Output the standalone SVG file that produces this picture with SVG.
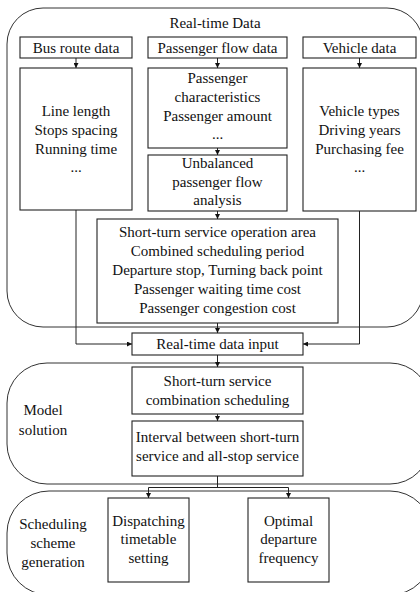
<svg xmlns="http://www.w3.org/2000/svg" width="420" height="592" viewBox="0 0 420 592">
<defs>
<marker id="arr" viewBox="0 0 6 6" refX="6" refY="3" markerWidth="5" markerHeight="5" markerUnits="userSpaceOnUse" orient="auto">
<path d="M0,0 L6,3 L0,6 z" fill="#111"/>
</marker>
<style>
.cont{fill:none;stroke:#333;stroke-width:1}
.box{fill:#fff;stroke:#222;stroke-width:1.1}
.t{font-family:"Liberation Serif","Times New Roman",serif;font-size:15px;fill:#111;text-anchor:middle}
.c{fill:none;stroke:#222;stroke-width:1}
.a{fill:none;stroke:#222;stroke-width:1;marker-end:url(#arr)}
</style>
</defs>
<rect fill="#fff" width="420" height="592"/>

<g id="containers">
<rect id="realtime-container" class="cont" x="7" y="8" width="416" height="319" rx="36" ry="36"/>
<rect id="model-container" class="cont" x="7" y="363" width="423" height="121" rx="40" ry="40"/>
<rect id="scheduling-container" class="cont" x="7" y="491" width="425" height="104" rx="42" ry="42"/>
</g>

<g id="labels">
<text class="t" x="215" y="27.5">Real-time Data</text>
<text class="t" x="43" y="415">Model</text>
<text class="t" x="43" y="435">solution</text>
<text class="t" x="53" y="529">Scheduling</text>
<text class="t" x="53" y="548">scheme</text>
<text class="t" x="53" y="567">generation</text>
</g>

<g id="connectors">
<line class="a" x1="76" y1="58" x2="76" y2="68"/>
<line class="a" x1="217.5" y1="58" x2="217.5" y2="68"/>
<line class="a" x1="359.5" y1="58" x2="359.5" y2="68"/>
<line class="a" x1="217.5" y1="148" x2="217.5" y2="155"/>
<line class="a" x1="217.5" y1="211" x2="217.5" y2="219"/>
<polyline class="a" points="76,210 76,344 132,344"/>
<polyline class="a" points="359.5,211 359.5,344 303,344"/>
<line class="a" x1="217.5" y1="323" x2="217.5" y2="333"/>
<line class="a" x1="217.5" y1="355" x2="217.5" y2="367"/>
<line class="a" x1="217.5" y1="414" x2="217.5" y2="421"/>
<line class="c" x1="217.5" y1="476" x2="217.5" y2="487.5"/>
<line class="c" x1="148.5" y1="487.5" x2="288.5" y2="487.5"/>
<line class="a" x1="148.5" y1="487.5" x2="148.5" y2="498"/>
<line class="a" x1="288.5" y1="487.5" x2="288.5" y2="498"/>
</g>

<g id="bus-route-data">
<rect class="box" x="20" y="37" width="112" height="21"/>
<text class="t" x="76" y="53">Bus route data</text>
</g>
<g id="passenger-flow-data">
<rect class="box" x="148" y="37" width="139" height="21"/>
<text class="t" x="217.5" y="53">Passenger flow data</text>
</g>
<g id="vehicle-data">
<rect class="box" x="303" y="37" width="113" height="21"/>
<text class="t" x="359.5" y="53">Vehicle data</text>
</g>

<g id="route-details">
<rect class="box" x="20" y="68" width="112" height="142"/>
<text class="t" x="76" y="116">Line length</text>
<text class="t" x="76" y="135">Stops spacing</text>
<text class="t" x="76" y="154">Running time</text>
<text class="t" x="76" y="172">...</text>
</g>
<g id="passenger-details">
<rect class="box" x="148" y="68" width="139" height="80"/>
<text class="t" x="217.5" y="83">Passenger</text>
<text class="t" x="217.5" y="102">characteristics</text>
<text class="t" x="217.5" y="121">Passenger amount</text>
<text class="t" x="217.5" y="139">...</text>
</g>
<g id="unbalanced-analysis">
<rect class="box" x="148" y="155" width="139" height="56"/>
<text class="t" x="217.5" y="168">Unbalanced</text>
<text class="t" x="217.5" y="187">passenger flow</text>
<text class="t" x="217.5" y="205">analysis</text>
</g>
<g id="vehicle-details">
<rect class="box" x="303" y="68" width="113" height="143"/>
<text class="t" x="359.5" y="115.5">Vehicle types</text>
<text class="t" x="359.5" y="134.5">Driving years</text>
<text class="t" x="359.5" y="153.5">Purchasing fee</text>
<text class="t" x="359.5" y="172">...</text>
</g>

<g id="short-turn-parameters">
<rect class="box" x="97" y="219" width="241" height="104"/>
<text class="t" x="217.5" y="237">Short-turn service operation area</text>
<text class="t" x="217.5" y="256">Combined scheduling period</text>
<text class="t" x="217.5" y="275">Departure stop, Turning back point</text>
<text class="t" x="217.5" y="294">Passenger waiting time cost</text>
<text class="t" x="217.5" y="313">Passenger congestion cost</text>
</g>

<g id="real-time-data-input">
<rect class="box" x="132" y="333" width="171" height="22"/>
<text class="t" x="217.5" y="349">Real-time data input</text>
</g>

<g id="combination-scheduling">
<rect class="box" x="132" y="367" width="171" height="47"/>
<text class="t" x="217.5" y="386">Short-turn service</text>
<text class="t" x="217.5" y="405">combination scheduling</text>
</g>

<g id="interval">
<rect class="box" x="132" y="421" width="171" height="55"/>
<text class="t" x="217.5" y="442">Interval between short-turn</text>
<text class="t" x="217.5" y="461">service and all-stop service</text>
</g>

<g id="dispatching-timetable">
<rect class="box" x="108" y="498" width="81" height="84"/>
<text class="t" x="148.5" y="526">Dispatching</text>
<text class="t" x="148.5" y="544">timetable</text>
<text class="t" x="148.5" y="563">setting</text>
</g>

<g id="optimal-frequency">
<rect class="box" x="248" y="498" width="81" height="84"/>
<text class="t" x="288.5" y="526">Optimal</text>
<text class="t" x="288.5" y="544">departure</text>
<text class="t" x="288.5" y="563">frequency</text>
</g>
</svg>
